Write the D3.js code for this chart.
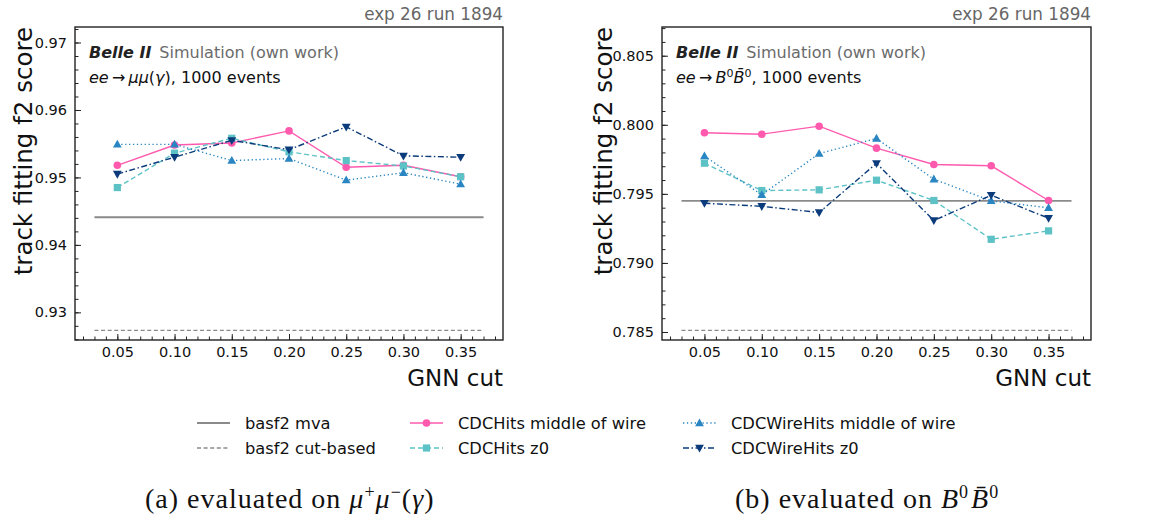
<!DOCTYPE html>
<html>
<head>
<meta charset="utf-8">
<script src="https://cdn.jsdelivr.net/npm/d3@7"></script>
<style>
  body { margin: 0; background: #fff; }
  svg { display: block; font-family: "DejaVu Sans", sans-serif; }
</style>
</head>
<body>
<script>
// GNN cut values on the x axis
const gnnCuts = [0.05, 0.10, 0.15, 0.20, 0.25, 0.30, 0.35];

// (a) mu mu (gamma) sample
const muHitsMiddle = [0.9518, 0.9548, 0.9551, 0.9569, 0.9515, 0.9518, 0.9501];
const muHitsZ0 = [0.9485, 0.9536, 0.9558, 0.9538, 0.9525, 0.9517, 0.9501];
const muWireMiddle = [0.9549, 0.9549, 0.9525, 0.9528, 0.9496, 0.9507, 0.9490];
const muWireZ0 = [0.9505, 0.9530, 0.9555, 0.9541, 0.9575, 0.9532, 0.9530];
const muMva = 0.9441;
const muCutBased = 0.92733;
const muTicks = [0.93, 0.94, 0.95, 0.96, 0.97];

// (b) B0 B0bar sample
const bbHitsMiddle = [0.79942, 0.79932, 0.79990, 0.79831, 0.79713, 0.79703, 0.79452];
const bbHitsZ0 = [0.79722, 0.79524, 0.79529, 0.79599, 0.79452, 0.79171, 0.79232];
const bbWireMiddle = [0.79773, 0.79493, 0.79792, 0.79901, 0.79606, 0.79449, 0.79399];
const bbWireZ0 = [0.79432, 0.79410, 0.79365, 0.79721, 0.79307, 0.79490, 0.79324];
const bbMva = 0.79449;
const bbCutBased = 0.78512;
const bbTicks = [0.785, 0.790, 0.795, 0.800, 0.805];

const seriesNames = ["CDCHits middle of wire", "CDCHits z0",
                     "CDCWireHits middle of wire", "CDCWireHits z0"];

const W = 1159, H = 530;

const styles = [
  {color: "#ff5aae", dash: null, marker: "circle"},
  {color: "#5cc2c6", dash: "5,3", marker: "square"},
  {color: "#2a86c2", dash: "1.3,2.6", marker: "up"},
  {color: "#0b3b7a", dash: "6,2.5,1.5,2.5", marker: "down"}
];

const panels = [
  {left: 75, right: 503, yDomain: [0.9259, 0.9723], ticks: muTicks, minor: 0.002, fmt: ".2f",
   series: [muHitsMiddle, muHitsZ0, muWireMiddle, muWireZ0], mva: muMva, cut: muCutBased,
   labelX: 22.5, process: "mu", caption: "a", captionX: 145},
  {left: 662, right: 1091, yDomain: [0.78442, 0.80708], ticks: bbTicks, minor: 0.001, fmt: ".3f",
   series: [bbHitsMiddle, bbHitsZ0, bbWireMiddle, bbWireZ0], mva: bbMva, cut: bbCutBased,
   labelX: 602.5, process: "bb", caption: "b", captionX: 735}
];

const plotTop = 27, plotBottom = 340;

const svg = d3.select("body").append("svg")
    .attr("width", W)
    .attr("height", H);

function drawMarker(g, type, x, y, color) {
  if (type === "circle") {
    g.append("circle").attr("cx", x).attr("cy", y).attr("r", 3.8).attr("fill", color);
  } else if (type === "square") {
    g.append("rect").attr("x", x - 3.6).attr("y", y - 3.6)
        .attr("width", 7.2).attr("height", 7.2).attr("fill", color);
  } else {
    const s = type === "up" ? 1 : -1;
    const pts = [[x, y - 4.6 * s], [x - 4.4, y + 3.2 * s], [x + 4.4, y + 3.2 * s]];
    g.append("path").attr("d", "M" + pts.join("L") + "Z").attr("fill", color);
  }
}

panels.forEach(p => {
  const x = d3.scaleLinear().domain([0.013, 0.387]).range([p.left, p.right]);
  const y = d3.scaleLinear().domain(p.yDomain).range([plotBottom, plotTop]);
  const g = svg.append("g");

  // minor ticks
  const yMinor = d3.range(Math.ceil(p.yDomain[0] / p.minor), Math.floor(p.yDomain[1] / p.minor) + 1)
      .map(k => k * p.minor);
  g.append("g")
      .attr("transform", "translate(" + p.left + ",0)")
      .call(d3.axisLeft(y).tickValues(yMinor).tickSize(-3.5).tickFormat(""))
      .call(a => a.select(".domain").remove());
  const xMinor = d3.range(2, 39).map(k => k / 100);
  g.append("g")
      .attr("transform", "translate(0," + plotBottom + ")")
      .call(d3.axisBottom(x).tickValues(xMinor).tickSize(-3.5).tickFormat(""))
      .call(a => a.select(".domain").remove());

  // major ticks
  g.append("g")
      .attr("transform", "translate(" + p.left + ",0)")
      .call(d3.axisLeft(y).tickValues(p.ticks).tickSize(-6).tickPadding(8).tickFormat(d3.format(p.fmt)))
      .call(a => a.select(".domain").remove())
      .call(a => a.selectAll("text").attr("font-size", 14.5).attr("fill", "#111").attr("font-family", "DejaVu Sans"));
  g.append("g")
      .attr("transform", "translate(0," + plotBottom + ")")
      .call(d3.axisBottom(x).tickValues(gnnCuts).tickSize(-6).tickPadding(7).tickFormat(d3.format(".2f")))
      .call(a => a.select(".domain").remove())
      .call(a => a.selectAll("text").attr("font-size", 14.5).attr("fill", "#111").attr("font-family", "DejaVu Sans"));

  g.selectAll(".tick line").attr("stroke", "#222").attr("stroke-width", 1);

  // frame
  g.append("rect")
      .attr("x", p.left).attr("y", plotTop)
      .attr("width", p.right - p.left).attr("height", plotBottom - plotTop)
      .attr("fill", "none").attr("stroke", "#222").attr("stroke-width", 1.4);

  // reference lines
  g.append("line")
      .attr("x1", x(0.03)).attr("x2", x(0.37))
      .attr("y1", y(p.mva)).attr("y2", y(p.mva))
      .attr("stroke", "#8a8a8a").attr("stroke-width", 1.9);
  g.append("line")
      .attr("x1", x(0.03)).attr("x2", x(0.37))
      .attr("y1", y(p.cut)).attr("y2", y(p.cut))
      .attr("stroke", "#8a8a8a").attr("stroke-width", 1.4).attr("stroke-dasharray", "4,2.6");

  // series
  const line = d3.line().x((d, i) => x(gnnCuts[i])).y(d => y(d));
  p.series.forEach((vals, si) => {
    const st = styles[si];
    const sg = g.append("g");
    sg.append("path")
        .attr("d", line(vals))
        .attr("fill", "none")
        .attr("stroke", st.color)
        .attr("stroke-width", 1.4)
        .attr("stroke-dasharray", st.dash);
    vals.forEach((v, i) => drawMarker(sg, st.marker, x(gnnCuts[i]), y(v), st.color));
  });

  // axis labels
  svg.append("text")
      .attr("transform", "translate(" + (p.labelX + 9) + "," + plotTop + ") rotate(-90)")
      .attr("text-anchor", "end")
      .attr("font-size", 24.5)
      .attr("fill", "#111")
      .text("track fitting f2 score");
  svg.append("text")
      .attr("x", p.right).attr("y", 386)
      .attr("text-anchor", "end")
      .attr("font-size", 23)
      .attr("fill", "#111")
      .text("GNN cut");

  // header
  svg.append("text")
      .attr("x", p.right).attr("y", 20)
      .attr("text-anchor", "end")
      .attr("font-size", 16.8)
      .attr("fill", "#666")
      .text("exp 26 run 1894");

  const tx = p.left + 14;
  const t1 = svg.append("text").attr("x", tx).attr("y", 58).attr("font-size", 16);
  t1.append("tspan").attr("font-weight", "bold").attr("font-style", "italic").attr("fill", "#222").text("Belle II");
  t1.append("tspan").attr("fill", "#6b6b6b").attr("dx", 8).text("Simulation (own work)");

  const t2 = svg.append("text").attr("x", tx).attr("y", 83).attr("font-size", 16).attr("fill", "#111");
  if (p.process === "mu") {
    t2.append("tspan").attr("font-style", "italic").text("ee");
    t2.append("tspan").text("\u2009\u2192\u2009");
    t2.append("tspan").attr("font-style", "italic").text("\u03bc\u03bc");
    t2.append("tspan").text("(");
    t2.append("tspan").attr("font-style", "italic").text("\u03b3");
    t2.append("tspan").text("), 1000 events");
  } else {
    t2.append("tspan").attr("font-style", "italic").text("ee");
    t2.append("tspan").text("\u2009\u2192\u2009");
    t2.append("tspan").attr("font-style", "italic").text("B");
    t2.append("tspan").attr("font-size", 11).attr("dy", -6).text("0");
    t2.append("tspan").attr("font-style", "italic").attr("dy", 6).text("B\u0304");
    t2.append("tspan").attr("font-size", 11).attr("dy", -6).text("0");
    t2.append("tspan").attr("dy", 6).text(", 1000 events");
  }

  // caption
  const c = svg.append("text")
      .attr("x", p.captionX).attr("y", 508)
      .attr("font-family", "Liberation Serif")
      .attr("font-size", 28)
      .attr("letter-spacing", 1)
      .attr("fill", "#111");
  c.append("tspan").text("(" + p.caption + ") evaluated on ");
  if (p.process === "mu") {
    c.append("tspan").attr("font-style", "italic").text("\u03bc");
    c.append("tspan").attr("font-size", 18).attr("dy", -10).text("+");
    c.append("tspan").attr("font-style", "italic").attr("dy", 10).text("\u03bc");
    c.append("tspan").attr("font-size", 18).attr("dy", -10).text("\u2212");
    c.append("tspan").attr("dy", 10).text("(");
    c.append("tspan").attr("font-style", "italic").text("\u03b3");
    c.append("tspan").text(")");
  } else {
    c.append("tspan").attr("font-style", "italic").text("B");
    c.append("tspan").attr("font-size", 18).attr("dy", -10).text("0");
    c.append("tspan").attr("font-style", "italic").attr("dy", 10).attr("dx", 2).text("B\u0304");
    c.append("tspan").attr("font-size", 18).attr("dy", -10).text("0");
  }
});

// legend
const legendItems = [
  {name: "basf2 mva", color: "#8a8a8a", dash: null, marker: null, col: 0, row: 0, w: 1.9},
  {name: "basf2 cut-based", color: "#8a8a8a", dash: "4,2.6", marker: null, col: 0, row: 1, w: 1.4}
].concat(seriesNames.map((n, i) => ({
  name: n, color: styles[i].color, dash: styles[i].dash, marker: styles[i].marker,
  col: i < 2 ? 1 : 2, row: i % 2, w: 1.4
})));
const colX = [197, 410, 683];
const rowY = [423, 448];
const leg = svg.append("g");
legendItems.forEach(it => {
  const lx = colX[it.col], ly = rowY[it.row];
  leg.append("line")
      .attr("x1", lx).attr("x2", lx + 33)
      .attr("y1", ly).attr("y2", ly)
      .attr("stroke", it.color).attr("stroke-width", it.w)
      .attr("stroke-dasharray", it.dash);
  if (it.marker) drawMarker(leg, it.marker, lx + 16.5, ly, it.color);
  leg.append("text")
      .attr("x", lx + 48).attr("y", ly + 5.5)
      .attr("font-size", 16.3)
      .attr("fill", "#111")
      .text(it.name);
});
</script>
</body>
</html>
